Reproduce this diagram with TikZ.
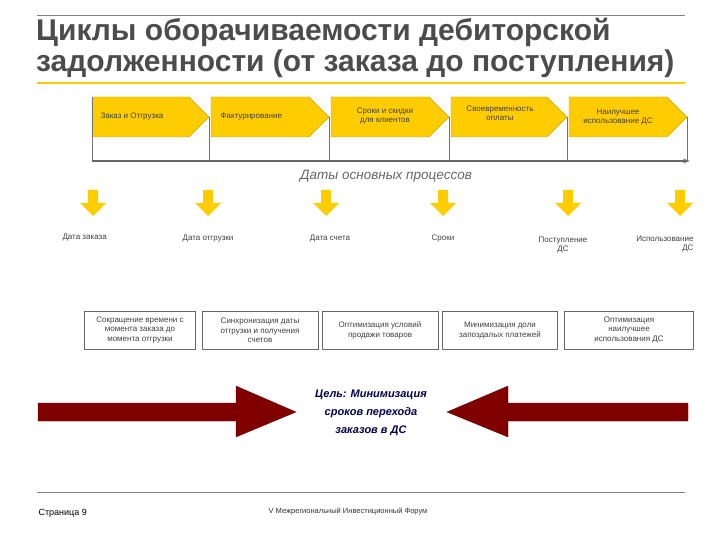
\documentclass[tikz,border=0pt]{standalone}
\usepackage{fontspec}
\setmainfont{Liberation Sans}
\definecolor{gold}{HTML}{FFCC00}
\begin{document}
\begin{tikzpicture}[x=1pt,y=-1pt,
  chev/.style={fill=gold,draw=gold!80!black,line width=0.4pt},
  small/.style={font=\fontsize{8}{9.5}\selectfont,text=black!75,align=center},
  dl/.style={font=\fontsize{8}{9.5}\selectfont,text=black!75},
  box/.style={draw=black!60,line width=0.6pt,small,minimum height=38pt},
  yarr/.style={fill=gold,draw=none},
  rarr/.style={fill=red!50!black,draw=red!40!black,line width=0.3pt}]
\useasboundingbox (0,0) rectangle (720,540);
\draw[black!50,line width=0.5pt] (37,15) -- (685,15);
\node[anchor=west,font=\bfseries\fontsize{30}{31}\selectfont,text=black!70,align=left,inner sep=0pt] (title) at (36,48)
 {Циклы оборачиваемости дебиторской\\задолженности (от заказа до поступления)};
\draw[gold,line width=1.4pt] (37,83) -- (685,83);
% chevrons
\foreach \a/\b/\n in {92/209/c1,211/329/c2,331/449/c3,451/567/c4,569/687/c5}{
  \pgfmathsetmacro{\m}{\b-20}
  \fill[chev] (\a,97) -- (\m,97) -- (\b,117) -- (\m,137) -- (\a,137) -- cycle;
  \draw[black!55,line width=0.5pt] (\b,117) -- (\b,161);
}
\node[dl,anchor=west] (t1) at (97,117) {Заказ и Отгрузка};
\node[dl,anchor=west] (t2) at (217,117) {Фактурирование};
\node[small] (t3) at (385,116) {Сроки и скидки\\для клиентов};
\node[small] (t4) at (500,113) {Своевременность\\оплаты};
\node[small] (t5) at (618,117) {Наилучшее\\использование ДС};
\draw[black!55,line width=0.5pt] (92,97) -- (92,161);
\coordinate (ax0) at (92,161); \coordinate (ax1) at (690,161);
\draw[black!60,line width=1.2pt,-latex] (ax0) -- (ax1);
\node[font=\itshape\fontsize{13.5}{15}\selectfont,text=black!60] (dates) at (386,176) {Даты основных процессов};
% yellow arrows
\foreach \x in {93,208,326,443,568,680}{
  \fill[yarr] (\x-5,190) -- (\x+5,190) -- (\x+5,203) -- (\x+13,203) -- (\x,216) -- (\x-13,203) -- (\x-5,203) -- cycle;
}
\node[dl,anchor=west] (d1) at (59,238) {Дата заказа};
\node[dl] (d2) at (208,239) {Дата отгрузки};
\node[dl] (d3) at (330,239) {Дата счета};
\node[dl] (d4) at (443,239) {Сроки};
\node[small] (d5) at (563,245) {Поступление\\ДС};
\node[small,align=right,anchor=north east] (d6) at (697,232) {Использование\\ДС};
% boxes
\node[box,minimum width=111pt] (b1) at (140,330) {Сокращение времени с\\момента заказа до\\момента отгрузки};
\node[box,minimum width=116pt,anchor=north] (b2) at (260,311) {Синхронизация даты\\отгрузки и получения\\счетов};
\node[box,minimum width=116pt,anchor=north] (b3) at (380,311) {Оптимизация условий\\продажи товаров};
\node[box,minimum width=115pt,anchor=north] (b4) at (500,311) {Минимизация доли\\запоздалых платежей};
\node[box,minimum width=129pt] (b5) at (629,330) {Оптимизация\\наилучшее\\использования ДС};
% goal
\node[font=\bfseries\itshape\fontsize{11}{18}\selectfont,text=blue!30!black,align=center] (goal) at (371,413)
 {Цель: Минимизация\\сроков перехода\\заказов в ДС};
\draw[rarr] (38,403) -- (236,403) -- (236,386) -- (296,412) -- (236,437) -- (236,421) -- (38,421) -- cycle;
\draw[rarr] (688,403) -- (508,403) -- (508,386) -- (447,412) -- (508,437) -- (508,421) -- (688,421) -- cycle;
% footer
\draw[black!50,line width=0.5pt] (37,492) -- (685,492);
\node[font=\fontsize{9}{11}\selectfont,anchor=west] (pg) at (35,513) {Страница 9};
\node[font=\fontsize{7.5}{9}\selectfont,text=black!80] (ft) at (348,511) {V Межрегиональный Инвестиционный Форум};
\end{tikzpicture}
\end{document}
